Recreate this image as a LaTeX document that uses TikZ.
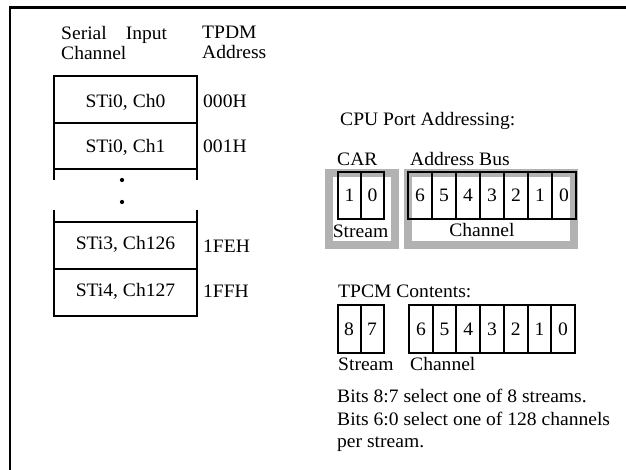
\documentclass[tikz,border=0pt]{standalone}
\usepackage{fontspec}
\setmainfont[FakeStretch=1.03]{Liberation Serif}

\tikzset{
  lbl/.style={inner sep=0pt, anchor=base west},
  slot/.style={inner sep=0pt, anchor=base},
  bit/.style={draw, line width=2pt, inner sep=0pt, outer sep=0pt, minimum width=24pt, minimum height=47pt},
  grayframe/.style={draw=gray!60, line width=8pt},
  tbl/.style={line width=2.4pt},
}

\begin{document}
\begin{tikzpicture}[x=1pt, y=-1pt, font=\fontsize{19}{21}\selectfont]
  \useasboundingbox (0,0) rectangle (626,470);

  % frame
  \draw[line width=2.5pt] (10,470) -- (10,7.5) -- (626,7.5);

  % headings
  \node[lbl] (serial) at (61,40) {Serial\quad Input};
  \node[lbl] (channel) at (61,60) {Channel};
  \node[lbl] (tpdm) at (202,39) {TPDM};
  \node[lbl] (address) at (202,59) {Address};

  % table
  \draw[tbl] (54,180) -- (54,76) -- (197,76) -- (197,180);
  \draw[tbl] (54,210) -- (54,316) -- (197,316) -- (197,210);
  \draw[tbl] (54,123) -- (197,123);
  \draw[tbl] (54,169) -- (197,169);
  \draw[tbl] (54,222) -- (197,222);
  \draw[tbl] (54,269) -- (197,269);
  \node[circle, fill, inner sep=1.5pt] (dota) at (122,180) {};
  \node[circle, fill, inner sep=1.5pt] (dotb) at (122,202) {};

  % table text
  \node[slot] (row0) at (125.5,107.5) {STi0, Ch0};
  \node[slot] (row1) at (125.5,153) {STi0, Ch1};
  \node[slot] (row2) at (125.5,250) {STi3, Ch126};
  \node[slot] (row3) at (125.5,296.5) {STi4, Ch127};
  \node[lbl] (adr0) at (203,107.5) {000H};
  \node[lbl] (adr1) at (203,153) {001H};
  \node[lbl] (adr2) at (203,253) {1FEH};
  \node[lbl] (adr3) at (203,297) {1FFH};

  % CPU port addressing
  \node[lbl] (cpu) at (340,126) {CPU Port Addressing:};
  \node[lbl] (car) at (337,166) {CAR};
  \node[lbl] (abus) at (410,166) {Address Bus};
  \draw[grayframe] (329,173) rectangle (394.5,245.5);
  \draw[grayframe] (408,173) rectangle (574,245);
  \node[bit, minimum width=23pt] (car1) at (349.5,195.5) {1};
  \node[bit, minimum width=23pt] (car0) at (372.5,195.5) {0};
  \node[bit] (ab6) at (420,195.5) {6};
  \node[bit] (ab5) at (444,195.5) {5};
  \node[bit] (ab4) at (468,195.5) {4};
  \node[bit] (ab3) at (492,195.5) {3};
  \node[bit] (ab2) at (516,195.5) {2};
  \node[bit] (ab1) at (540,195.5) {1};
  \node[bit] (ab0) at (564,195.5) {0};
  \node[slot] (carst) at (360.5,238) {Stream};
  \node[slot] (abch) at (482,237) {Channel};

  % TPCM contents
  \node[lbl] (tpcm) at (338,298) {TPCM Contents:};
  \node[bit, minimum width=23pt, minimum height=48pt] (tc8) at (349,329) {8};
  \node[bit, minimum width=23pt, minimum height=48pt] (tc7) at (372,329) {7};
  \node[bit, minimum width=23.7pt, minimum height=48pt] (tc6) at (420.9,329) {6};
  \node[bit, minimum width=23.7pt, minimum height=48pt] (tc5) at (444.6,329) {5};
  \node[bit, minimum width=23.7pt, minimum height=48pt] (tc4) at (468.3,329) {4};
  \node[bit, minimum width=23.7pt, minimum height=48pt] (tc3) at (492,329) {3};
  \node[bit, minimum width=23.7pt, minimum height=48pt] (tc2) at (515.7,329) {2};
  \node[bit, minimum width=23.7pt, minimum height=48pt] (tc1) at (539.4,329) {1};
  \node[bit, minimum width=23.7pt, minimum height=48pt] (tc0) at (563.1,329) {0};
  \node[lbl] (tcst) at (338,370) {Stream};
  \node[lbl] (tcch) at (410,370) {Channel};

  % notes
  \node[lbl] (note1) at (337,402) {Bits 8:7 select one of 8 streams.};
  \node[lbl] (note2) at (337,425) {Bits 6:0 select one of 128 channels};
  \node[lbl] (note3) at (337,447) {per stream.};
\end{tikzpicture}
\end{document}
